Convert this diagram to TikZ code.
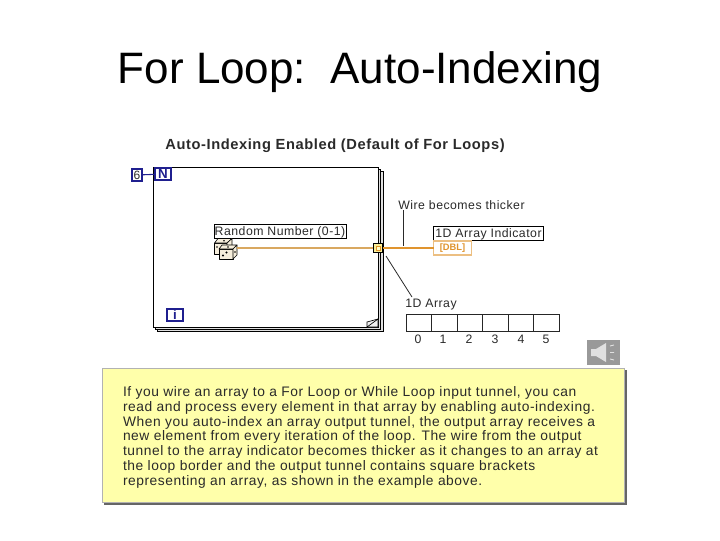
\documentclass[tikz,border=0pt]{standalone}
\usepackage{fontspec}
\setmainfont{Liberation Sans}
\newfontfamily\wide[LetterSpace=4]{Liberation Sans}
\usetikzlibrary{calc}
\definecolor{lvblue}{HTML}{1F1F8F}
\definecolor{wireo}{HTML}{D9A860}
\definecolor{wiret}{HTML}{E0942E}
\definecolor{tipy}{HTML}{FFFFAA}
\definecolor{ink}{HTML}{2A2A2A}
\definecolor{diecol}{HTML}{F6EEDC}
\tikzset{
 x=0.75pt,y=-0.75pt,
 every node/.style={inner sep=0pt,outer sep=0pt,text=ink},
 term/.style={draw=lvblue,line width=1.5pt,fill=white,font=\bfseries\fontsize{10}{11}\selectfont,text=lvblue},
 lbl/.style={draw=black,line width=0.6pt,fill=white,font=\wide\fontsize{9.2}{10}\selectfont,text=ink,text height=7pt,text depth=0.5pt},
 captxt/.style={font=\wide\fontsize{9.2}{10}\selectfont,text=ink},
 leader/.style={draw=ink,line width=0.6pt},
 pagebox/.style={draw=black,line width=0.6pt,fill=white},
 backpage/.style={draw=black,line width=0.6pt,fill=black!12},
 die/.style={draw=black,line width=0.45pt,fill=diecol,line join=round},
 cell/.style={draw=black!85,line width=0.6pt,fill=white,minimum width=19.1pt,minimum height=12.7pt},
 idx/.style={font=\wide\fontsize{9.2}{10}\selectfont,text=ink}
}
\begin{document}
\begin{tikzpicture}
\useasboundingbox (0,0) rectangle (720,540);
\fill[white] (0,0) rectangle (720,540);
% title
\node[font=\fontsize{33}{36}\selectfont,text=black] (title) at (360,72) {For Loop:\ \ Auto-Indexing};
\node[font=\wide\bfseries\fontsize{11}{12}\selectfont,text=ink] (head) at (335,146) {Auto-Indexing Enabled (Default of For Loops)};
% loop pages
\draw[backpage] (157,171) rectangle (383.5,331);
\draw[backpage] (155,169) rectangle (380.7,329);
\draw[pagebox] (153,167) rectangle (378,327);
\draw[black,line width=0.5pt,fill=black!6] (367,327) -- (367,322) -- (378,319) -- (378,327) -- cycle;
\draw[black,line width=0.5pt] (367,327) -- (378,319);
% terminals
\node[term,minimum width=8pt,minimum height=9.5pt,font=\fontsize{9}{10}\selectfont,text=ink] (six) at (137,175) {6};
\node[term,minimum width=12.5pt,minimum height=9.5pt] (nn) at (163,174) {N};
\draw[lvblue,line width=0.8pt] (six) -- (nn);
\node[term,minimum width=12.5pt,minimum height=9.5pt] (ii) at (175,315) {i};
% random number
\node[lbl,minimum width=99pt,minimum height=10.5pt] (rlabel) at (280,231) {Random Number (0-1)};
\coordinate (dice) at (237,248);
% back die
\draw[die] (214.5,243) rectangle (227,254);
\draw[die] (214.5,243) -- (218,238.5) -- (232,238.5) -- (227,243) -- cycle;
\draw[die] (227,243) -- (232,238.5) -- (232,249) -- (227,254) -- cycle;
% front die
\draw[die] (219,249) rectangle (233,259);
\draw[die] (219,249) -- (222,245) -- (237,245) -- (233,249) -- cycle;
\draw[die] (233,249) -- (237,245) -- (237,255) -- (233,259) -- cycle;
\fill[black] (223,255.5) circle (0.9pt) (226.5,252.5) circle (0.9pt) (235,252) circle (0.7pt) (217,247) circle (0.6pt) (224,240.7) circle (0.6pt) (228,247) circle (0.6pt);
% tunnel and wires
\draw[wireo,line width=0.9pt] (dice) -- (373,248);
\coordinate (wtop) at (403,210);
\coordinate (wbot) at (403,246);
\draw[leader] (wtop) -- (wbot);
\node[draw=black,line width=0.7pt,fill=tipy!85!wiret,minimum width=7pt,minimum height=6.5pt] (tunnel) at (378,248) {};
\node[draw=wiret,line width=0.4pt,fill=tipy!60,minimum width=3pt,minimum height=3pt] (tunnelin) at (378,248) {};
% indicator
\node[lbl,minimum width=83pt,minimum height=10.5pt] (alabel) at (488.5,233) {1D Array Indicator};
\node[draw=wiret!60,line width=0.9pt,fill=white,minimum width=28.5pt,minimum height=10.5pt,font=\bfseries\fontsize{7}{8}\selectfont,text=wiret] (dbl) at (452.5,248) {[DBL]};
\draw[wiret,line width=2pt] (tunnel.east) -- (dbl.west);
% wire note
\node[captxt] (wnote) at (461.5,205) {Wire becomes thicker};
% array
\node[captxt] (anote) at (431,305) {1D Array};
\coordinate (dtop) at (412,297);
\coordinate (dbot) at (386,256);
\draw[leader] (dtop) -- (dbot);
\foreach \k/\cx/\ix in {0/418.75/418,1/444.25/443,2/469.75/469,3/495.25/495,4/520.75/521,5/546.25/546}{
 \node[cell] (cell\k) at (\cx,322.5) {};
 \node[idx] (idx\k) at (\ix,339) {\k};
}
% speaker
\node[fill=black!40,minimum width=24.7pt,minimum height=18.7pt] (spk) at (603.5,352.5) {};
\fill[black!12] (591,349) -- (596,349) -- (606,343) -- (606,362) -- (596,356) -- (591,356) -- cycle;
\draw[black!12,line width=0.7pt] (610,346) -- (614,345) (610,352.5) -- (614,352.5) (610,359) -- (614,360);
% yellow note
\fill[black!60] (104,370) rectangle (627,505);
\node[draw=black!30,line width=0.7pt,fill=tipy,minimum width=392pt,minimum height=101pt,anchor=north west] (note) at (102,368) {};
\node[anchor=north west,align=left,font=\wide\fontsize{10.35}{11.1}\selectfont,text=ink] (notetext) at (123,386.5) {If you wire an array to a For Loop or While Loop input tunnel, you can\\
read and process every element in that array by enabling auto-indexing.\\
When you auto-index an array output tunnel, the output array receives a\\
new element from every iteration of the loop. The wire from the output\\
tunnel to the array indicator becomes thicker as it changes to an array at\\
the loop border and the output tunnel contains square brackets\\
representing an array, as shown in the example above.};
\end{tikzpicture}
\end{document}
